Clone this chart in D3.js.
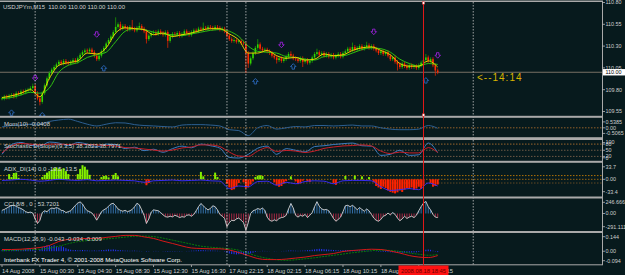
<!DOCTYPE html>
<html>
<head>
<meta charset="utf-8">
<script src="https://cdn.jsdelivr.net/npm/d3@7/dist/d3.min.js"></script>
<style>
  html, body { margin: 0; background: #071a1d; }
  svg { display: block; font-family: "Liberation Sans", Arial, sans-serif; }
  text { white-space: pre; }
</style>
</head>
<body>
<svg id="chart" width="625" height="275"></svg>
<script>
// ---- data (M15 bars, 14 Aug 20:30 .. 18 Aug 20:30) ----
const closes = [109.70,109.72,109.71,109.73,109.74,109.72,109.76,109.75,109.78,109.77,
  109.79,109.80,109.82,109.84,109.76,109.70,109.66,109.76,109.85,109.93,
  109.99,110.03,110.06,110.09,110.12,110.10,110.13,110.11,110.10,110.12,
  110.14,110.12,110.16,110.20,110.23,110.25,110.24,110.26,110.23,110.19,
  110.15,110.19,110.24,110.28,110.33,110.37,110.41,110.46,110.52,110.55,
  110.50,110.53,110.51,110.49,110.52,110.50,110.48,110.51,110.53,110.50,
  110.47,110.38,110.42,110.45,110.46,110.44,110.47,110.45,110.43,110.46,
  110.36,110.41,110.44,110.43,110.45,110.42,110.44,110.47,110.45,110.43,
  110.46,110.48,110.47,110.50,110.49,110.51,110.50,110.52,110.51,110.50,
  110.52,110.51,110.49,110.50,110.47,110.42,110.38,110.36,110.37,110.35,
  110.36,110.34,110.33,110.22,110.10,110.16,110.22,110.28,110.32,110.27,
  110.25,110.26,110.24,110.22,110.19,110.17,110.14,110.16,110.13,110.15,
  110.18,110.21,110.19,110.16,110.15,110.13,110.16,110.12,110.14,110.11,
  110.13,110.17,110.21,110.23,110.20,110.22,110.19,110.21,110.18,110.20,
  110.17,110.19,110.21,110.18,110.22,110.24,110.27,110.25,110.29,110.26,
  110.28,110.30,110.27,110.29,110.31,110.28,110.30,110.27,110.25,110.22,
  110.24,110.21,110.23,110.19,110.15,110.17,110.12,110.09,110.06,110.10,
  110.07,110.05,110.08,110.06,110.07,110.05,110.08,110.11,110.14,110.17,
  110.13,110.15,110.08,110.02,110.00];
// notable wick extremes [bar, price]
const spikeHighs = [[13,109.87],[48,110.63],[50,110.58],[55,110.60],[58,110.57],[85,110.57],[108,110.38],[122,110.24],[133,110.27],[148,110.34],[154,110.35],[179,110.21]];
const spikeLows = [[16,109.62],[61,110.33],[70,110.28],[103,109.99],[104,110.05],[116,110.10],[127,110.06],[167,110.02],[183,109.96]];

// moving averages, read every 4th bar
const maFast = [109.71,109.73,109.76,109.80,109.72,109.93,110.08,110.11,110.13,110.22,
  110.21,110.28,110.45,110.51,110.50,110.49,110.43,110.45,110.41,110.43,
  110.45,110.48,110.50,110.50,110.44,110.37,110.22,110.22,110.25,110.19,
  110.16,110.17,110.14,110.15,110.21,110.19,110.20,110.25,110.28,110.29,
  110.25,110.20,110.10,110.07,110.07,110.13,110.06];
const maSlow = [109.70,109.71,109.74,109.77,109.76,109.82,110.00,110.08,110.11,110.17,
  110.20,110.23,110.35,110.47,110.50,110.49,110.46,110.44,110.43,110.42,
  110.44,110.46,110.48,110.49,110.47,110.41,110.30,110.24,110.23,110.22,
  110.18,110.17,110.15,110.14,110.18,110.19,110.19,110.22,110.26,110.28,
  110.27,110.23,110.15,110.10,110.07,110.10,110.09];

// fractal arrows [bar, price]
const fractalUp = [[14,109.93],[40,110.43],[118,110.31],[157,110.46],[184,110.19]];
const fractalDown = [[4,109.54],[17,109.51],[43,110.05],[107,109.90],[123,110.07],[179,109.91]];

// oscillators read every 4th bar
const momVals = [0.08,0.21,0.25,0.33,0.33,0.58,0.71,0.79,0.58,0.33,
  0.17,0.33,0.46,0.44,0.29,0.21,0.17,0.12,0.08,0.25,
  0.29,0.29,0.25,0.17,-0.17,-0.25,-0.71,0,0.21,-0.12,
  0,0.12,0.08,0.21,0.21,0.17,0.21,0.25,0.17,0.17,
  0,-0.12,-0.17,-0.17,-0.12,0.21,-0.04];
const stoMain = [30,78,88,75,70,90,85,72,88,80,
  66,80,78,58,65,48,55,40,58,70,
  62,80,72,60,15,12,30,60,70,30,
  58,50,42,68,72,78,82,85,72,70,
  25,30,50,25,28,85,38];
const stoSignal = [37,71,83,80,76,80,80,78,80,78,
  76,73,71,63,61,56,51,46,51,61,
  66,76,76,68,41,22,20,46,63,44,
  49,46,39,46,59,66,71,73,76,71,
  46,34,41,37,37,63,39];
const adxLine = [-3,-2,0,-2,-5,-3,0,-2,-3,-1,
  -4,-3,-2,-3,-4,-8,-4,-3,-2,-4,
  -3,-2,-4,-5,-25,-18,-20,-6,-5,-16,
  -8,-12,-6,-4,-5,-12,-4,-3,-3,-4,
  -20,-30,-28,-25,-28,-10,-18];
const macdMain = [0.017,0.017,0.02,0.027,0.037,0.057,0.097,0.117,0.122,0.127,
  0.127,0.137,0.147,0.157,0.157,0.142,0.127,0.10,0.077,0.052,
  0.032,0.027,0.024,0.024,0.012,-0.013,-0.043,-0.073,-0.083,-0.083,
  -0.078,-0.068,-0.058,-0.043,-0.033,-0.023,-0.003,0.007,0.014,0.02,
  0.017,0.002,-0.018,-0.043,-0.058,-0.063,-0.043];
const macdSignal = [0.005,0.008,0.012,0.015,0.02,0.03,0.05,0.075,0.095,0.105,
  0.115,0.122,0.13,0.14,0.148,0.15,0.145,0.13,0.11,0.09,
  0.07,0.05,0.04,0.032,0.025,0.01,-0.02,-0.05,-0.07,-0.085,
  -0.09,-0.085,-0.075,-0.065,-0.052,-0.04,-0.028,-0.015,-0.005,0.005,
  0.01,0.008,-0.002,-0.018,-0.03,-0.04,-0.034];

// per-bar histograms
const adxHist = [0,0,0,14,6,17,18,4,0,0, 0,0,0,0,0,0,0,6,12,18,
  22,26,30,32,29,27,30,22,14,0, 0,0,14,28,38,34,26,12,0,0,
  0,0,6,9,10,5,0,12,17,8, 0,0,0,0,0,0,0,0,0,0,
  0,-16,-10,0,0,0,0,0,0,0, 0,0,0,0,0,0,0,0,0,0,
  0,0,0,0,20,8,0,0,0,0, 18,6,0,0,0,-12,-22,-29,-27,-20,
  -10,0,-8,-24,-22,-14,-6,6,10,11, 9,0,0,0,0,-8,-16,-20,-18,-12,
  -5,0,8,0,-6,-13,-11,-4,0,-5, -7,0,0,0,0,0,0,0,0,0,
  -10,-15,0,0,0,9,0,0,0,10, 0,0,8,0,0,6,0,-8,-18,-22,
  -26,-20,-24,-30,-34,-36,-38,-35,-30,-34, -28,-24,-26,-22,-28,-25,-20,-26,-18,0,
  0,-10,-20,-18,-14];
const cciVals = [70,90,120,150,175,180,160,130,110,80,
  40,20,30,10,-120,-220,-150,20,60,40,
  90,120,110,130,110,70,60,20,40,60,
  120,180,230,255,210,120,60,40,10,-60,
  -147,-60,40,80,110,160,210,225,170,100,
  70,50,70,40,60,90,150,225,190,80,
  -40,-220,-120,30,80,70,60,20,-30,-70,
  -80,-60,-75,-40,-60,-90,-70,-80,-40,-30,
  -60,-20,60,150,220,170,120,80,110,170,
  150,80,-20,-60,-110,-290,-200,-150,-160,-120,
  -100,-150,-200,-367,-200,0,60,80,110,90,
  120,70,-80,-150,-170,-140,-160,-110,-90,-80,
  -40,100,220,120,-40,-80,-40,-60,-20,-90,
  -40,20,150,260,160,100,80,90,60,-20,
  -110,-170,-130,-80,40,170,180,150,180,140,
  80,130,90,50,100,60,-20,-100,-150,-170,
  -130,-60,-40,10,-30,20,-20,-100,-160,-120,
  -60,-110,-80,-60,-90,-40,60,150,230,265,
  150,80,-20,-80,-90];
const macdHist = [0.01,0.01,0.012,0.015,0.012,0.01,0.012,0.015,0.01,0.012,
  0.02,0.03,0.03,0.02,0.01,0,0.02,0.04,0.05,0.06,
  0.06,0.05,0.06,0.05,0.04,0.05,0.04,0.03,0.02,0.015,
  0.01,0.012,0.008,0.01,0.012,0.01,0.008,0.005,0.006,0.008,
  0.005,0.008,0.01,0.012,0.015,0.018,0.016,0.018,0.015,0.012,
  0.01,0.008,0.006,0.005,0.004,0.005,0.006,0.004,0.003,0.002,
  0,-0.004,-0.003,0,0.002,0.003,0.002,0,-0.002,-0.003,
  -0.005,-0.004,-0.003,-0.004,-0.002,-0.003,-0.002,0,0.002,0.003,
  0.005,0.006,0.008,0.01,0.012,0.01,0.008,0.006,0.008,0.006,
  0.005,0.004,0.002,0,-0.004,-0.015,-0.022,-0.028,-0.03,-0.032,
  -0.03,-0.028,-0.032,-0.035,-0.03,-0.022,-0.015,-0.008,-0.002,0.002,
  0.004,0.003,0.002,0.001,0,-0.002,-0.001,0,0.002,0.003,
  0.004,0.006,0.008,0.006,0.005,0.004,0.005,0.006,0.008,0.01,
  0.012,0.015,0.018,0.022,0.024,0.022,0.02,0.018,0.016,0.014,
  0.012,0.01,0.008,0.009,0.01,0.011,0.012,0.012,0.011,0.01,
  0.009,0.008,0.007,0.006,0.005,0.004,0.002,0,-0.003,-0.005,
  -0.006,-0.007,-0.008,-0.009,-0.01,-0.011,-0.012,-0.013,-0.014,-0.015,
  -0.014,-0.013,-0.014,-0.013,-0.012,-0.011,-0.008,-0.002,0.008,0.015,
  0.017,0.014,0.005,-0.004,-0.009];

// axis / texts
const priceTicks = [110.80, 110.55, 110.30, 110.05, 109.80, 109.55];
const bid = 110.00;
const timeLabels = ["14 Aug 2008","15 Aug 00:30","15 Aug 04:30","15 Aug 08:30","15 Aug 12:30","15 Aug 16:30",
  "17 Aug 22:15","18 Aug 02:15","18 Aug 06:15","18 Aug 10:15","18 Aug 14:15","18 Aug 18:15"];
const daySeparators = [14, 95, 103, 199];   // bar index of each new day
const markerBar = 178, markerTime = "2008.08.18 18:45";
const LINE_STEP = 4, LABEL_STEP = 16;

// ---- layout ----
const svg = d3.select("#chart");
const defs = svg.append("defs");
const RIGHT = 602;
const barX = d3.scaleLinear().domain([0, 253]).range([2, 601.1]);
const panels = { main:[2,116], mom:[118,137], sto:[140,161], adx:[163,196], cci:[199,231], macd:[233,264] };

svg.append("rect").attr("width", 625).attr("height", 275).attr("fill", "#071a1d");

function panel(name){
  const [top, bottom] = panels[name];
  defs.append("clipPath").attr("id", "clip-" + name).append("rect")
    .attr("x", 0).attr("y", top).attr("width", RIGHT).attr("height", bottom - top);
  return svg.append("g").attr("clip-path", `url(#clip-${name})`);
}
function level(g, y, color){
  g.append("line").attr("x1", 0).attr("x2", RIGHT).attr("y1", y).attr("y2", y)
    .attr("stroke", color).attr("stroke-width", 0.8).attr("stroke-dasharray", "1.5,1.5");
}
function coarseLine(g, vals, y, color, width, dash){
  const line = d3.line().x((d, k) => barX(k * LINE_STEP)).y(d => y(d)).curve(d3.curveMonotoneX);
  const p = g.append("path").datum(vals).attr("d", line).attr("fill", "none")
    .attr("stroke", color).attr("stroke-width", width || 1);
  if (dash) p.attr("stroke-dasharray", dash);
}
function label(x, y, txt, color, size){
  return svg.append("text").attr("x", x).attr("y", y).attr("font-size", size || 6)
    .attr("fill", color || "#d4d4d4").text(txt);
}
function axisLabel(y, txt){
  svg.append("line").attr("x1", RIGHT).attr("x2", RIGHT + 3).attr("y1", y).attr("y2", y)
    .attr("stroke", "#b8b8b8").attr("stroke-width", 0.8);
  svg.append("text").attr("x", RIGHT + 3.5).attr("y", y).attr("dy", "0.35em")
    .attr("font-size", 5.4).attr("fill", "#d0d0d0").text(txt);
}

// ---- main price panel ----
const yMain = d3.scaleLinear().domain([109.5, 110.8]).range([115.86, 2.5]);
const gMain = panel("main");
gMain.append("line").attr("x1", 0).attr("x2", RIGHT).attr("y1", yMain(bid)).attr("y2", yMain(bid))
  .attr("stroke", "#857b6c").attr("stroke-width", 0.9);

const hiMap = new Map(spikeHighs), loMap = new Map(spikeLows);
const WICK = 0.022;
const bars = closes.map((c, i) => {
  const o = i ? closes[i - 1] : c;
  const top = Math.max(o, c), bot = Math.min(o, c);
  return { i, o, c, hi: Math.max(hiMap.get(i) || 0, top + WICK), lo: Math.min(loMap.get(i) || 999, bot - WICK) };
});
const gC = gMain.append("g");
gC.selectAll("line.wick").data(bars).join("line").attr("class", "wick")
  .attr("x1", d => barX(d.i)).attr("x2", d => barX(d.i))
  .attr("y1", d => yMain(d.hi)).attr("y2", d => yMain(d.lo))
  .attr("stroke", d => d.c >= d.o ? "#1c9a00" : "#e02400").attr("stroke-width", 0.8);
gC.selectAll("rect.body").data(bars).join("rect").attr("class", "body")
  .attr("x", d => barX(d.i) - 0.8).attr("width", 1.6)
  .attr("y", d => yMain(Math.max(d.o, d.c)))
  .attr("height", d => Math.max(0.8, Math.abs(yMain(d.o) - yMain(d.c))))
  .attr("fill", d => d.c >= d.o ? "#33d600" : "#ff2a00");

coarseLine(gMain, maSlow, yMain, "#2fbf10", 1);
coarseLine(gMain, maFast, yMain, "#e6d200", 1);

function arrow(cx, cy, s){
  return `M${cx - 1.2},${cy + 3 * s} v${-2.5 * s} h-1.6 l2.8,${-3 * s} l2.8,${3 * s} h-1.6 v${2.5 * s} z`;
}
gMain.selectAll("path.fup").data(fractalUp).join("path").attr("class", "fup")
  .attr("d", d => arrow(barX(d[0]), yMain(d[1]), -1))
  .attr("fill", "none").attr("stroke", "#9a20d8").attr("stroke-width", 0.9);
gMain.selectAll("path.fdn").data(fractalDown).join("path").attr("class", "fdn")
  .attr("d", d => arrow(barX(d[0]), yMain(d[1]), 1))
  .attr("fill", "none").attr("stroke", "#2a66b8").attr("stroke-width", 0.9);

svg.append("text").attr("x", 477).attr("y", yMain(bid) + 8.5)
  .attr("font-size", 10).attr("letter-spacing", 1).attr("fill", "#d8b400").text("<--14:14");
label(3, 8.5, "USDJPYm,M15  110.00 110.00 110.00 110.00", "#cfcfcf");

// ---- momentum ----
const yMom = d3.scaleLinear().domain([-0.5065, 0.5385]).range([133.4, 121.9]);
const gMom = panel("mom");
level(gMom, yMom(0), "#b8742c");
coarseLine(gMom, momVals, yMom, "#2c5f92", 1);
label(4, 126, "Mom(10) -0.0408");

// ---- stochastic ----
const ySto = d3.scaleLinear().domain([0, 100]).range([160.5, 140]);
const gSto = panel("sto");
[80, 50, 20].forEach(v => level(gSto, ySto(v), v === 80 ? "#c07a30" : "#8a6a50"));
coarseLine(gSto, stoMain, ySto, "#3b7cc0", 1);
coarseLine(gSto, stoSignal, ySto, "#c8202a", 1);
label(4, 147.5, "Stochastic D(Slope)(9,3,5) 38.3823 38.7971");

// ---- ADX_DI ----
const yAdx = d3.scaleLinear().domain([-33.4, 33.7]).range([191.7, 166.8]);
const gAdx = panel("adx");
level(gAdx, yAdx(10), "#e08a00");
level(gAdx, yAdx(0), "#c07a10");
level(gAdx, yAdx(-10), "#7a5424");
gAdx.selectAll("rect").data(adxHist.map((v, i) => ({ v, i })).filter(d => d.v !== 0)).join("rect")
  .attr("x", d => barX(d.i) - 1).attr("width", 2)
  .attr("y", d => Math.min(yAdx(0), yAdx(d.v))).attr("height", d => Math.abs(yAdx(d.v) - yAdx(0)))
  .attr("fill", d => d.v > 0 ? "#84f000" : "#ff2200");
coarseLine(gAdx, adxLine, yAdx, "#3a2cf0", 1);
label(4, 171, "ADX_DI(14) 0.0 -13.5 -13.5");

// ---- CCI ----
const yCci = d3.scaleLinear().domain([-291.111, 246.666]).range([226.7, 202.3]);
const gCci = panel("cci");
gCci.selectAll("line").data(cciVals.map((v, i) => ({ v, i }))).join("line")
  .attr("x1", d => barX(d.i)).attr("x2", d => barX(d.i))
  .attr("y1", yCci(0)).attr("y2", d => yCci(d.v))
  .attr("stroke", d => d.v >= 0 ? "#3a78b8" : "#b82a48").attr("stroke-width", 0.9);
gCci.append("path").datum(cciVals)
  .attr("d", d3.line().x((d, i) => barX(i)).y(d => yCci(d)))
  .attr("fill", "none").attr("stroke", "#d2d2d2").attr("stroke-width", 0.9);
label(4, 205.5, "CCI 8/8 , 0 , 53.7201");

// ---- MACD ----
const yMacd = d3.scaleLinear().domain([-0.094, 0.144]).range([260.7, 236.7]);
const gMacd = panel("macd");
gMacd.selectAll("line").data(macdHist.map((v, i) => ({ v, i })).filter(d => d.v !== 0)).join("line")
  .attr("x1", d => barX(d.i)).attr("x2", d => barX(d.i))
  .attr("y1", yMacd(0)).attr("y2", d => yMacd(d.v))
  .attr("stroke", "#2433ff").attr("stroke-width", 1);
coarseLine(gMacd, macdSignal, yMacd, "#0a7a0a", 1, "2,1");
coarseLine(gMacd, macdMain, yMacd, "#d41818", 1);
label(4, 240.5, "MACD(12,26,9) -0.043 -0.034 -0.009");
label(4, 262, "Interbank FX Trader 4, © 2001-2008 MetaQuotes Software Corp.", "#ffffff", 6.2);

// ---- separators and frame ----
daySeparators.forEach(i => {
  svg.append("line").attr("x1", barX(i)).attr("x2", barX(i)).attr("y1", 2).attr("y2", 265)
    .attr("stroke", "#c4c4c4").attr("stroke-width", 0.8).attr("stroke-dasharray", "1.5,1.5");
});
const sep = "#a9a9a9";
[[0.5, 1.5], [115.8, 2], [137.2, 2.8], [160.8, 2], [196.5, 2], [231, 2], [264.3, 1]].forEach(([y, h]) => {
  svg.append("rect").attr("x", 0).attr("y", y).attr("width", RIGHT + 1).attr("height", h).attr("fill", sep);
});
svg.append("line").attr("x1", RIGHT + 0.5).attr("x2", RIGHT + 0.5).attr("y1", 1).attr("y2", 265)
  .attr("stroke", sep).attr("stroke-width", 1);

// red vertical marker line
const mx = barX(markerBar);
svg.append("line").attr("x1", mx).attr("x2", mx).attr("y1", 2).attr("y2", 265)
  .attr("stroke", "#e01818").attr("stroke-width", 1);
[3, 115].forEach(y => svg.append("rect").attr("x", mx - 1.2).attr("y", y - 1.2).attr("width", 2.4).attr("height", 2.4)
  .attr("fill", "#ffffff").attr("stroke", "#e01818").attr("stroke-width", 0.5));

// ---- right axis ----
priceTicks.forEach(p => axisLabel(yMain(p), p.toFixed(2)));
svg.append("rect").attr("x", RIGHT + 1).attr("y", yMain(bid) - 3.2).attr("width", 22).attr("height", 6.4).attr("fill", "#ffffff");
svg.append("text").attr("x", RIGHT + 3.5).attr("y", yMain(bid)).attr("dy", "0.35em")
  .attr("font-size", 5.4).attr("fill", "#000000").text(bid.toFixed(2));
axisLabel(yMom(0.5385), "0.5385"); axisLabel(yMom(0), "0.00"); axisLabel(yMom(-0.5065), "-0.5065");
axisLabel(142.6, "100"); axisLabel(ySto(80), "80"); axisLabel(ySto(50), "50"); axisLabel(ySto(20), "20"); axisLabel(157.8, "0");
axisLabel(yAdx(33.7), "33.7"); axisLabel(yAdx(0), "0.00"); axisLabel(yAdx(-33.4), "-33.4");
axisLabel(yCci(246.666), "246.666"); axisLabel(yCci(0), "0.00"); axisLabel(yCci(-291.111), "-291.111");
axisLabel(yMacd(0.144), "0.144"); axisLabel(yMacd(0), "0.00"); axisLabel(yMacd(-0.094), "-0.094");

// ---- time axis ----
timeLabels.forEach((t, k) => {
  const x = barX(k * LABEL_STEP);
  svg.append("line").attr("x1", x).attr("x2", x).attr("y1", 265).attr("y2", 267)
    .attr("stroke", "#b8b8b8").attr("stroke-width", 0.8);
  svg.append("text").attr("x", x).attr("y", 272.5).attr("font-size", 5.8).attr("fill", "#d0d0d0").text(t);
});
svg.append("rect").attr("x", mx - 25).attr("y", 265.5).attr("width", 50).attr("height", 9.5).attr("fill", "#ff1212");
svg.append("text").attr("x", mx).attr("y", 272.5).attr("text-anchor", "middle")
  .attr("font-size", 5.8).attr("fill", "#6a0000").text(markerTime);
</script>
</body>
</html>
